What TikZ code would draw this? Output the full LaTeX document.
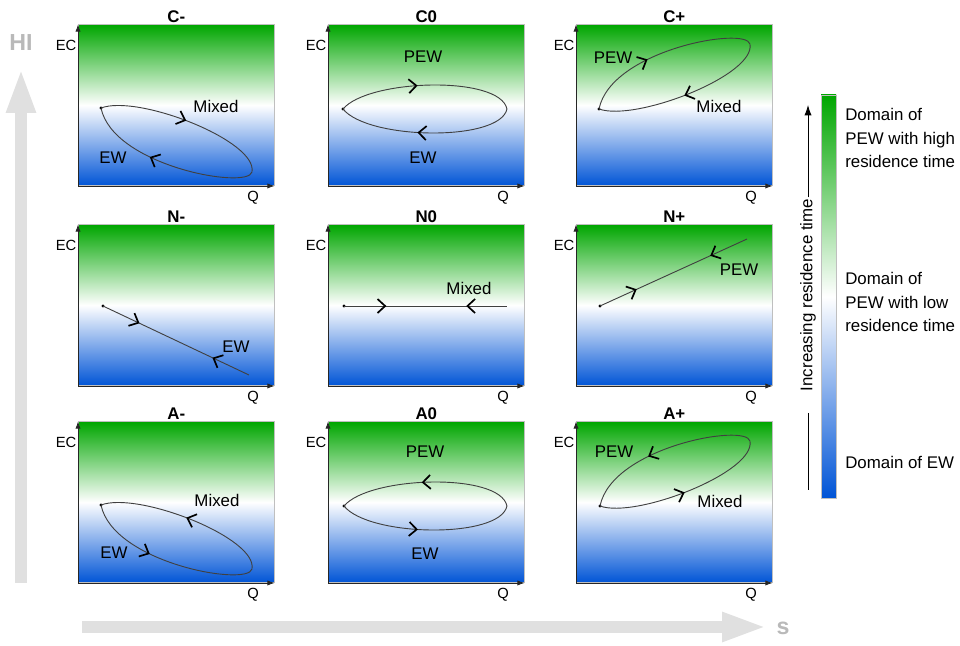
\documentclass[tikz,border=0pt]{standalone}
\usepackage{fontspec}
\setmainfont{Liberation Sans}
\usetikzlibrary{arrows.meta,positioning,decorations.markings}

\definecolor{ecgreen}{RGB}{0,166,0}
\definecolor{ecblue}{RGB}{0,84,214}
\definecolor{bigarrow}{RGB}{224,224,224}
\definecolor{bigtext}{RGB}{185,185,185}

\tikzset{
  panel/.style={draw=black!25,top color=ecgreen,bottom color=ecblue,middle color=white,minimum width=4.9cm,minimum height=4.025cm,inner sep=0pt,anchor=south west},
  ttl/.style={font=\fontsize{12}{14}\selectfont\bfseries,inner sep=1pt,anchor=south},
  axlbl/.style={font=\fontsize{10.5}{12}\selectfont,inner sep=1pt,anchor=north east},
  lbl/.style={font=\fontsize{12}{14}\selectfont,inner sep=1pt},
  lgd/.style={font=\fontsize{12}{16.4}\selectfont,align=left,inner sep=0pt},
  axisline/.style={draw=black!85,line width=0.6pt,-{Latex[length=1.8mm,width=1.3mm]}},
  loopline/.style={draw=black!75,line width=0.65pt},
  fwd/.style={postaction={decorate,decoration={markings,mark=at position #1 with {\arrow{Straight Barb[black,length=1.9mm,width=3.5mm,line width=1.2pt]}}}}},
  bwd/.style={postaction={decorate,decoration={markings,mark=at position #1 with {\arrowreversed{Straight Barb[black,length=1.9mm,width=3.5mm,line width=1.2pt]}}}}},
  bigarr/.style={draw=bigarrow,line width=0.28cm,-{Triangle[length=1.125cm,width=0.67cm]}}
}

\begin{document}
\begin{tikzpicture}
\useasboundingbox (0,0) rectangle (24,16.15);

\coordinate (hi-base) at (0.525,1.575);
\coordinate (hi-tip) at (0.525,14.45);
\coordinate (s-base) at (2.05,0.475);
\coordinate (s-tip) at (19.175,0.475);
\draw[bigarr] (hi-base) -- (hi-tip);
\draw[bigarr] (s-base) -- (s-tip);
\node[font=\fontsize{16.5}{18}\selectfont\bfseries,text=bigtext] (hi) at (0.525,15.075) {HI};
\node[font=\fontsize{16.5}{18}\selectfont\bfseries,text=bigtext,inner sep=0pt] (s) at (19.575,0.45) {s};

\foreach \nm/\x/\y/\t in {cneg/1.95/11.5/C-,czero/8.2/11.5/C0,cpos/14.4/11.5/C+,
  nneg/1.95/6.5/N-,nzero/8.2/6.5/N0,npos/14.4/6.5/N+,
  aneg/1.95/1.575/A-,azero/8.2/1.575/A0,apos/14.4/1.575/A+}{
  \node[panel] (\nm) at (\x,\y) {};
  \node[ttl] (\nm-ttl) at (\nm.north) {\t};
  \draw[axisline] (\nm.south west) -- (\nm.north west);
  \draw[axisline] (\nm.south west) -- (\nm.south east);
  \node[axlbl] (\nm-ec) at ([yshift=-0.35cm]\nm.north west) {EC};
  \node[axlbl] (\nm-q) at ([xshift=-0.35cm,yshift=-0.08cm]\nm.south east) {Q};
}

\begin{scope}[shift={(cneg.south west)},x=0.025cm,y=0.025cm]
\fill (23,78) circle[radius=1.1pt];
\draw[loopline,fwd=0.5] (23,78) .. controls (60,92) and (180,45) .. (174,14);
\draw[loopline,fwd=0.6] (174,14) .. controls (170,-4) and (35,20) .. (23,78);
\node[lbl] (cneg-mix) at (138,80) {Mixed};
\node[lbl] (cneg-ew) at (35,28) {EW};
\end{scope}

\begin{scope}[shift={(czero.south west)},x=0.025cm,y=0.025cm]
\fill (15,77) circle[radius=1.1pt];
\draw[loopline,fwd=0.45] (15,77) .. controls (40,107) and (172,111) .. (179,77);
\draw[loopline,fwd=0.55] (179,77) .. controls (172,44) and (40,46) .. (15,77);
\node[lbl] (czero-pew) at (95,129) {PEW};
\node[lbl] (czero-ew) at (95,28) {EW};
\end{scope}

\begin{scope}[shift={(cpos.south west)},x=0.025cm,y=0.025cm]
\fill (23,77) circle[radius=1.1pt];
\draw[loopline,fwd=0.4] (23,77) .. controls (35,136) and (170,160) .. (174,142);
\draw[loopline,fwd=0.5] (174,142) .. controls (180,111) and (60,64) .. (23,77);
\node[lbl] (cpos-pew) at (37,128) {PEW};
\node[lbl] (cpos-mix) at (143,80) {Mixed};
\end{scope}

\begin{scope}[shift={(nneg.south west)},x=0.025cm,y=0.025cm]
\fill (25,80) circle[radius=1.1pt];
\draw[loopline,fwd=0.25,bwd=0.75] (25,80) -- (171,11);
\node[lbl] (nneg-ew) at (158,39) {EW};
\end{scope}

\begin{scope}[shift={(nzero.south west)},x=0.025cm,y=0.025cm]
\fill (16,80) circle[radius=1.1pt];
\draw[loopline,fwd=0.26,bwd=0.75] (16,80) -- (179,80);
\node[lbl] (nzero-mix) at (141,98) {Mixed};
\end{scope}

\begin{scope}[shift={(npos.south west)},x=0.025cm,y=0.025cm]
\fill (24,80) circle[radius=1.1pt];
\draw[loopline,fwd=0.25,bwd=0.75] (24,80) -- (171,147);
\node[lbl] (npos-pew) at (163,116) {PEW};
\end{scope}

\begin{scope}[shift={(aneg.south west)},x=0.025cm,y=0.025cm]
\fill (23,78) circle[radius=1.1pt];
\draw[loopline,bwd=0.5] (23,78) .. controls (60,92) and (180,45) .. (174,14);
\draw[loopline,bwd=0.6] (174,14) .. controls (170,-4) and (35,20) .. (23,78);
\node[lbl] (aneg-mix) at (139,83) {Mixed};
\node[lbl] (aneg-ew) at (36,30) {EW};
\end{scope}

\begin{scope}[shift={(azero.south west)},x=0.025cm,y=0.025cm]
\fill (16,77) circle[radius=1.1pt];
\draw[loopline,bwd=0.47] (16,77) .. controls (41,107) and (172,111) .. (179,77);
\draw[loopline,bwd=0.55] (179,77) .. controls (172,44) and (41,46) .. (16,77);
\node[lbl] (azero-pew) at (97,131) {PEW};
\node[lbl] (azero-ew) at (97,29) {EW};
\end{scope}

\begin{scope}[shift={(apos.south west)},x=0.025cm,y=0.025cm]
\fill (24,77) circle[radius=1.1pt];
\draw[loopline,bwd=0.4] (24,77) .. controls (36,136) and (170,160) .. (174,142);
\draw[loopline,bwd=0.5] (174,142) .. controls (180,111) and (60,64) .. (24,77);
\node[lbl] (apos-pew) at (38,131) {PEW};
\node[lbl] (apos-mix) at (144,82) {Mixed};
\end{scope}

\node[draw=black!25,top color=ecgreen,bottom color=ecblue,middle color=white,minimum width=0.375cm,minimum height=10.075cm,inner sep=0pt] (bar) at (20.7125,8.7375) {};
\node[lgd,anchor=west] (dom-high) at (21.125,12.7) {Domain of\\PEW with high\\residence time};
\node[lgd,anchor=west] (dom-low) at (21.125,8.6) {Domain of\\PEW with low\\residence time};
\node[lgd,anchor=west] (dom-ew) at (21.125,4.6) {Domain of EW};
\node[lgd,rotate=90] (incr) at (20.2,8.775) {Increasing residence time};
\coordinate (incr-top) at (20.2,13.525);
\coordinate (incr-bot) at (20.2,3.9);
\draw[line width=0.6pt,-{Latex[length=2.6mm,width=1.8mm]}] ([yshift=0.03cm]incr.east) -- (incr-top);
\draw[line width=0.6pt] ([yshift=-0.54cm]incr.west) -- (incr-bot);
\end{tikzpicture}
\end{document}
